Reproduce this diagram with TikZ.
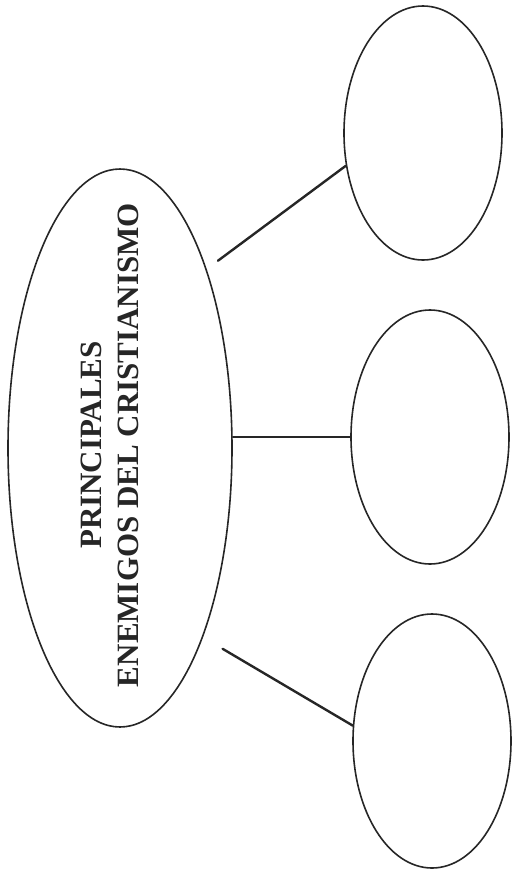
\documentclass[tikz,border=0pt]{standalone}
\usepackage{fontspec}
\setmainfont{Liberation Serif}
\usepackage{xcolor}
\usepackage{tikz}
\usetikzlibrary{positioning, calc, shapes.geometric}
\definecolor{mapInk}{HTML}{262626}
\tikzset{
  hub/.style    ={draw=mapInk, ellipse, line width=1.6pt, inner sep=0pt, minimum width=224pt, minimum height=558pt},
  bubble/.style ={draw=mapInk, ellipse, line width=1.6pt, inner sep=0pt, minimum width=158pt, minimum height=254pt},
  title/.style  ={rotate=90, align=center, text=mapInk, font=\bfseries\fontsize{31}{37}\selectfont},
  link/.style   ={line width=2.4pt, mapInk, line cap=round},
}
\begin{document}
\begin{tikzpicture}[x=1pt,y=-1pt]
\useasboundingbox (0,0) rectangle (513,876);
% ---- central topic ----
\node[hub]   (main)  at (120,448) {};
\node[title] (label) at (110,445) {PRINCIPALES\\ENEMIGOS DEL CRISTIANISMO};

% ---- empty answer bubbles ----
\node[bubble] (enemyA) at (423,133) {};
\node[bubble] (enemyB) at (430,437) {};
\node[bubble] (enemyC) at (432,741) {};

% ---- connectors ----
\coordinate (fromA) at ([shift={(11pt,9pt)}]main.64);
\coordinate (fromC) at ([shift={(19pt,-13pt)}]main.-66);
\draw[link] (fromA) -- (enemyA.203);
\draw[link, line width=1.8pt] (enemyB.west -| main.east) -- (enemyB.west);
\draw[link] (fromC) -- (enemyC.169);
\end{tikzpicture}
\end{document}
